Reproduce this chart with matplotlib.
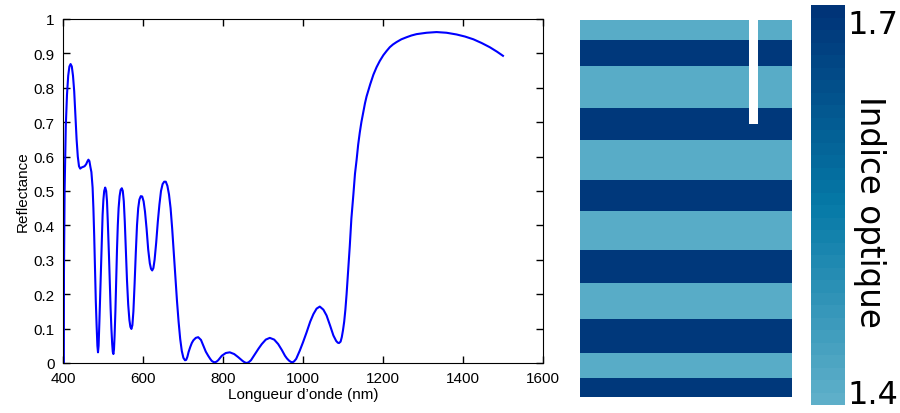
import numpy as np
import matplotlib
matplotlib.use('Agg')
import matplotlib.pyplot as plt
from matplotlib.colors import LinearSegmentedColormap, Normalize
from matplotlib.ticker import FuncFormatter

# spectre de reflectance
wavelength = [400, 401, 402, 404, 407, 410, 413, 416, 419, 422, 425, 428, 431, 434, 437, 440, 443, 446,
              450, 454, 458, 461, 463.5, 466, 468.5, 471, 474, 476, 478, 480, 482, 484, 486, 487.5, 489,
              491, 493, 495, 497, 499, 501, 503, 505.5, 508, 510, 512, 515, 517, 519, 521, 523, 524.5,
              526, 527.5, 529, 531, 533, 535, 537, 539, 541.5, 544, 547, 549.5, 552, 554.5, 557, 560,
              563, 566, 568.5, 571, 573.5, 576, 579, 582, 585, 588, 591, 594.5, 598, 601.5, 605, 609,
              613, 617, 620, 623, 626, 629, 633, 637, 641, 645, 649, 653, 657, 661, 665, 669, 673, 677,
              681, 685, 689, 693, 697, 701, 705, 708, 711, 714, 718, 722, 726, 732, 738, 745, 751, 757,
              763, 768, 772, 776, 780, 784, 788, 797, 807, 817, 828, 838, 844, 849, 854, 859, 864, 870,
              880, 889, 897, 907, 917, 928, 938, 947, 955, 960, 965, 970, 974, 978, 983, 992, 1000, 1009,
              1018, 1026, 1034, 1042, 1051, 1059, 1068, 1076, 1083, 1087, 1090, 1094, 1097, 1100, 1103,
              1106, 1109, 1113, 1117, 1121, 1126, 1130, 1134, 1138, 1142, 1146, 1151, 1155, 1159, 1168,
              1176, 1184, 1192, 1201, 1209, 1217, 1225, 1234, 1246, 1259, 1271, 1284, 1309, 1334, 1359,
              1384, 1405, 1426, 1447, 1467, 1485, 1500]
reflectance = [0.26, 0.0, 0.2, 0.5, 0.69, 0.78, 0.835, 0.862, 0.869, 0.862, 0.835, 0.79, 0.72, 0.65,
               0.6, 0.572, 0.565, 0.568, 0.57, 0.572, 0.578, 0.586, 0.591, 0.587, 0.57, 0.555, 0.51,
               0.45, 0.37, 0.27, 0.18, 0.11, 0.05, 0.031, 0.05, 0.12, 0.2, 0.29, 0.36, 0.43, 0.475, 0.5,
               0.51, 0.5, 0.47, 0.41, 0.31, 0.23, 0.16, 0.1, 0.055, 0.032, 0.026, 0.04, 0.08, 0.15, 0.24,
               0.33, 0.4, 0.45, 0.485, 0.503, 0.508, 0.5, 0.47, 0.41, 0.33, 0.24, 0.17, 0.125, 0.105,
               0.099, 0.11, 0.15, 0.23, 0.32, 0.4, 0.45, 0.475, 0.485, 0.484, 0.47, 0.44, 0.39, 0.33,
               0.29, 0.274, 0.269, 0.276, 0.3, 0.35, 0.41, 0.46, 0.5, 0.52, 0.527, 0.527, 0.515, 0.49,
               0.45, 0.39, 0.32, 0.25, 0.18, 0.12, 0.07, 0.035, 0.015, 0.008, 0.009, 0.018, 0.032, 0.046,
               0.058, 0.066, 0.073, 0.075, 0.067, 0.05, 0.033, 0.021, 0.012, 0.006, 0.003, 0.002, 0.004,
               0.008, 0.021, 0.029, 0.031, 0.026, 0.017, 0.011, 0.006, 0.002, 0.0, 0.002, 0.008, 0.026,
               0.042, 0.055, 0.068, 0.073, 0.068, 0.055, 0.038, 0.021, 0.013, 0.007, 0.003, 0.002, 0.005,
               0.012, 0.036, 0.06, 0.089, 0.12, 0.142, 0.158, 0.164, 0.155, 0.138, 0.108, 0.08, 0.064,
               0.059, 0.058, 0.062, 0.075, 0.095, 0.12, 0.155, 0.2, 0.27, 0.34, 0.42, 0.49, 0.55, 0.59,
               0.635, 0.67, 0.7, 0.73, 0.755, 0.775, 0.81, 0.838, 0.86, 0.878, 0.895, 0.907, 0.918, 0.926,
               0.933, 0.941, 0.947, 0.952, 0.956, 0.96, 0.962, 0.96, 0.955, 0.949, 0.941, 0.93, 0.918,
               0.905, 0.893]

# empilement des couches, du haut vers le bas
layer_thickness = [20, 26, 42, 32, 40, 31, 39, 33, 36, 34, 25, 19]
layer_index = [1.4, 1.7, 1.4, 1.7, 1.4, 1.7, 1.4, 1.7, 1.4, 1.7, 1.4, 1.7]
stack_width = 212
slit_x = [169, 178]   # fente d'air
slit_depth = 104
air_index = 1.0

fig = plt.figure(figsize=(9, 4.14), dpi=100)

# --- reflectance ---
ax1 = fig.add_axes([0.07, 0.1208, 0.5333, 0.8309])
ax1.plot(wavelength, reflectance, color='#0000ff', lw=1.5)
ax1.set_xlim(400, 1600)
ax1.set_ylim(0, 1)
ax1.set_xticks(np.arange(400, 1601, 200))
ax1.set_yticks(np.arange(0, 1.01, 0.1))
ax1.yaxis.set_major_formatter(FuncFormatter(lambda v, p: '%g' % round(v, 1)))
ax1.tick_params(direction='in', top=True, right=True, length=5, width=1,
                labelsize=11, pad=6)
for lab in ax1.get_xticklabels() + ax1.get_yticklabels():
    lab.set_family('Liberation Sans')
ax1.set_xlabel('Longueur d’onde (nm)', fontsize=11, family='Liberation Sans', labelpad=1)
ax1.set_ylabel('Reflectance', fontsize=11, family='Liberation Sans', labelpad=3)

# --- structure ---
ax2 = fig.add_axes([0.6444, 0.0386, 0.2356, 0.9106])
y_edges = list(np.cumsum([0] + layer_thickness))
y_edges = sorted(set(y_edges + [slit_depth]))
x_edges = [0, slit_x[0], slit_x[1], stack_width]
bounds = np.cumsum(layer_thickness)
C = np.zeros((len(y_edges) - 1, 3))
for i in range(len(y_edges) - 1):
    ymid = 0.5 * (y_edges[i] + y_edges[i + 1])
    n = layer_index[np.searchsorted(bounds, ymid)]
    C[i, :] = n
    if ymid < slit_depth:
        C[i, 1] = air_index

cmap = LinearSegmentedColormap.from_list('indice', ['#5eafc9', '#0579a7', '#003478'], N=32)
cmap = cmap.with_extremes(under='white')
norm = Normalize(vmin=1.389, vmax=1.713)
im = ax2.pcolormesh(x_edges, y_edges, C, cmap=cmap, norm=norm)
ax2.set_xlim(0, stack_width)
ax2.set_ylim(y_edges[-1], 0)
ax2.axis('off')

# --- barre de couleur ---
cax = fig.add_axes([0.9011, 0.0193, 0.0378, 0.966])
cb = fig.colorbar(im, cax=cax, ticks=[1.4, 1.7])
cb.outline.set_visible(False)
cax.tick_params(length=0, labelsize=23, pad=2)
cax.text(1.73, 0.486, 'Indice optique', rotation=270, fontsize=23.5,
         ha='center', va='center', transform=cax.transAxes)

plt.savefig('out.png', dpi=100)
